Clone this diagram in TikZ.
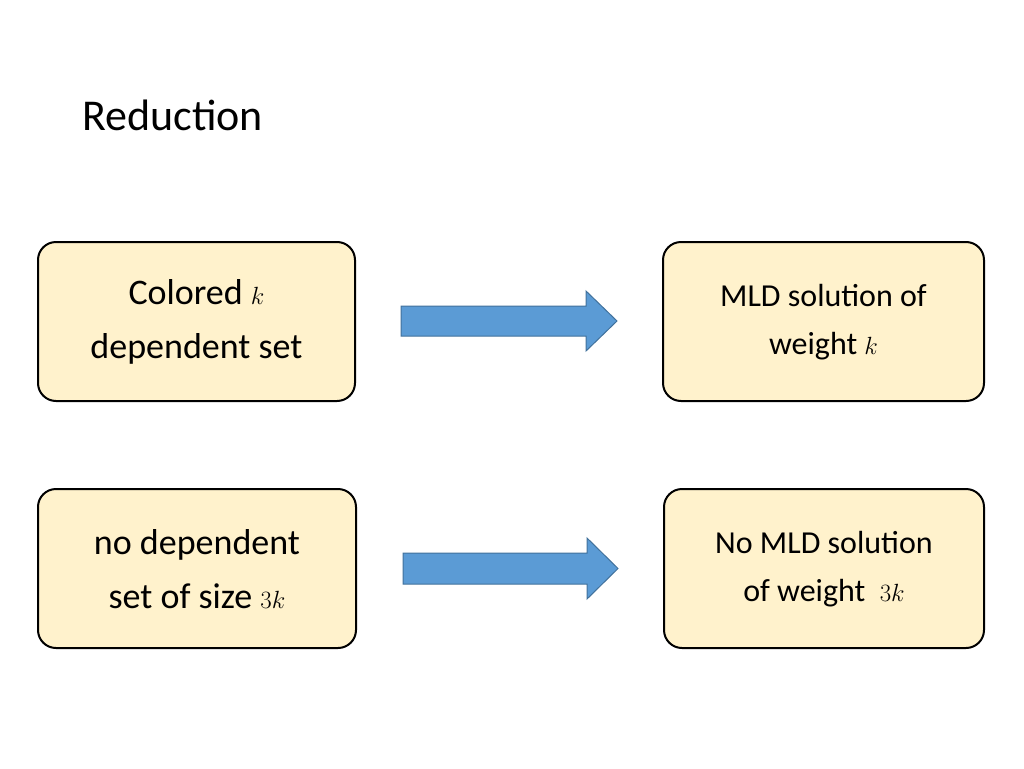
\documentclass[tikz,border=0pt]{standalone}
\usepackage{fontspec}
\setmainfont{Carlito}
\begin{document}
\begin{tikzpicture}[x=1pt,y=-1pt,
 bx/.style={draw=black,line width=2pt,fill=boxfill,rounded corners=18pt},
 arr/.style={draw=arrline,line width=1pt,fill=arrfill}]
\definecolor{boxfill}{HTML}{FFF2CC}
\definecolor{arrfill}{HTML}{5B9BD5}
\definecolor{arrline}{HTML}{41719C}
\useasboundingbox (0,0) rectangle (1024,768);
\node[anchor=base west,font=\fontsize{44}{50}\selectfont,inner sep=0] (title) at (82,130) {Reduction};
\draw[bx] (38,242) rectangle (355,401); \node[align=center,font=\fontsize{36}{54}\selectfont] (a) at (196.5,322) {Colored $k$\\dependent set};
\draw[bx] (663,242) rectangle (984,401); \node[align=center,font=\fontsize{32}{48}\selectfont] (b) at (823.5,322) {MLD solution of\\weight $k$};
\draw[bx] (38,489) rectangle (356,648); \node[align=center,font=\fontsize{36}{54}\selectfont] (c) at (197,569) {no dependent\\set of size $3k$};
\draw[bx] (664,489) rectangle (984,648); \node[align=center,font=\fontsize{32}{48}\selectfont] (d) at (824,569) {No MLD solution\\of weight~ $3k$};
\draw[arr] (401,306) -- (586,306) -- (586,291) -- (617,321) -- (586,351) -- (586,336) -- (401,336) -- cycle;
\draw[arr] (403,553) -- (587,553) -- (587,538) -- (618,568.5) -- (587,599) -- (587,584) -- (403,584) -- cycle;
\end{tikzpicture}
\end{document}
